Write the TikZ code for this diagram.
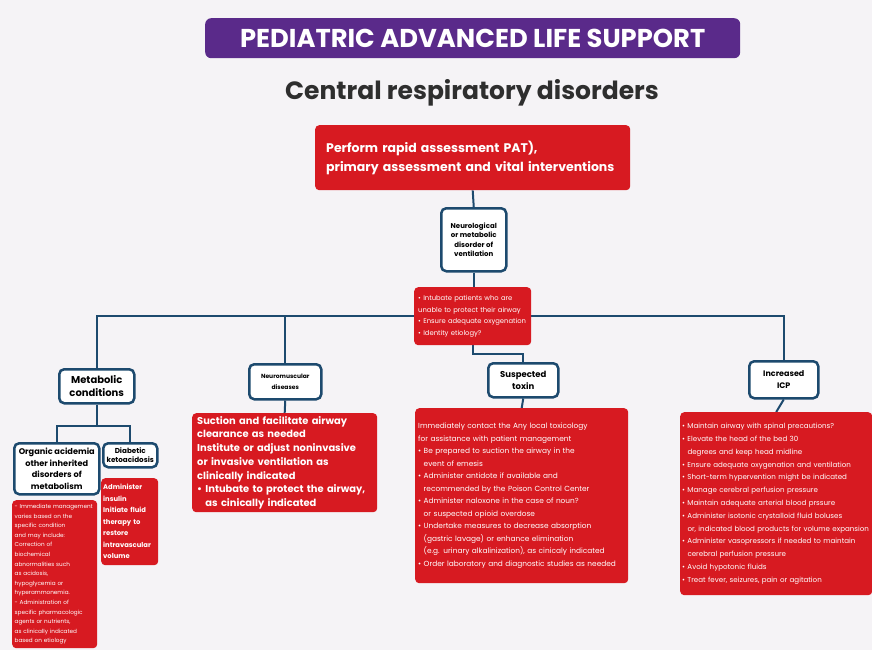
\documentclass[tikz,border=0pt]{standalone}
\usepackage{fontspec}
\setmainfont{Poppins}
\definecolor{palsred}{HTML}{D71A21}
\definecolor{palspurple}{HTML}{5A2A8A}
\definecolor{palsblue}{HTML}{1D4A6E}
\definecolor{bgcol}{HTML}{F5F3F6}
\definecolor{titlegrey}{HTML}{2E2E2E}
\pgfdeclarelayer{back}
\pgfdeclarelayer{lines}
\pgfsetlayers{back,lines,main}
\newcommand{\fsz}[2]{\fontsize{#1}{#2}\selectfont\hyphenpenalty=10000\exhyphenpenalty=10000}
\newcommand{\bul}{\textbullet\ }
\newcommand{\ind}{\hphantom{\textbullet\ }}
\begin{document}
\begin{tikzpicture}[x=1pt,y=-1pt,
  redbox/.style={fill=palsred, rounded corners=4pt, text=white, anchor=north west, align=left, inner ysep=3pt},
  bluebox/.style={draw=palsblue, line width=2.5pt, fill=white, rounded corners=5pt, align=center, anchor=north west, inner sep=1pt, text=black},
  conn/.style={draw=palsblue, line width=2pt},
]
\begin{pgfonlayer}{back}
\fill[bgcol] (0,0) rectangle (872,650);
\end{pgfonlayer}
\useasboundingbox (0,0) rectangle (872,650);

% title
\node[fill=palspurple, rounded corners=6pt, minimum width=535pt, minimum height=40pt, anchor=north west, text=white, font=\bfseries\fsz{25.8}{28}] (title) at (205,18) {PEDIATRIC ADVANCED LIFE SUPPORT};
\node[text=titlegrey, font=\bfseries\fsz{25}{30}] (sub) at (472,93) {Central respiratory disorders};

% top box
\node[redbox, text width=293pt, minimum height=65pt, inner xsep=11pt, font=\bfseries\fsz{12.5}{19}] (top) at (315,125) {Perform rapid assessment PAT),\\primary assessment and vital interventions};

\node[bluebox, minimum width=65pt, minimum height=63pt, font=\bfseries\fsz{7}{9.5}] (neuro) at (440,207) {Neurological\\or metabolic\\disorder of\\ventilation};

\node[redbox, text width=109pt, minimum height=58pt, inner xsep=4pt, font=\fsz{6.8}{11.5}] (intub) at (414,287) {\bul Intubate patients who are\\unable to protect their airway\\\bul Ensure adequate oxygenation\\\bul Identity etiology?};

% category boxes
\node[bluebox, minimum width=75pt, minimum height=34pt, font=\bfseries\fsz{10}{12.5}] (meta) at (58,368) {Metabolic\\conditions};
\node[bluebox, minimum width=72pt, minimum height=35pt, font=\bfseries\fsz{6}{11}] (nm) at (248,363) {Neuromuscular\\diseases};
\node[bluebox, minimum width=70pt, minimum height=34pt, font=\bfseries\fsz{8.5}{12}] (tox) at (487,362) {Suspected\\toxin};
\node[bluebox, minimum width=69pt, minimum height=37pt, font=\bfseries\fsz{8}{12}] (icp) at (748,360) {Increased\\ICP};

\node[bluebox, minimum width=85pt, minimum height=51pt, font=\bfseries\fsz{8.2}{11.8}] (org) at (13,442) {Organic acidemia\\other inherited\\disorders of\\metabolism};
\node[bluebox, minimum width=54pt, minimum height=24pt, font=\bfseries\fsz{7.2}{9.5}] (dia) at (102,442) {Diabetic\\ketoacidosis};

% red detail boxes
\node[redbox, text width=80pt, minimum height=148pt, inner xsep=2.5pt, font=\fsz{5.7}{9.6}] (orgred) at (12,500) {- Immediate management\\varies based on the\\specific condition\\and may include:\\Correction of\\biochemical\\abnormalities such\\as acidosis,\\hypoglycemia or\\hyperammonemia.\\- Administration of\\specific pharmacologic\\agents or nutrients,\\as clinically indicated\\based on etiology};

\node[redbox, text width=53pt, minimum height=87pt, inner xsep=2pt, font=\bfseries\fsz{6.8}{11.5}] (diared) at (101,478) {Administer\\insulin\\Initiate fluid\\therapy to\\restore\\intravascular\\volume};

\node[redbox, text width=181pt, minimum height=99pt, inner xsep=2pt, font=\bfseries\fsz{9.9}{13.7}] (nmred) at (192,413) {\hspace*{3pt}Suction and facilitate airway\\\hspace*{3pt}clearance as needed\\\hspace*{3pt}Institute or adjust noninvasive\\\hspace*{3pt}or invasive ventilation as\\\hspace*{3pt}clinically indicated\\\hspace*{3pt}\bul Intubate to protect the airway,\\\hspace*{3pt}\ind as cinically indicated};

\node[redbox, text width=207pt, minimum height=175pt, inner xsep=3pt, font=\fsz{7.4}{12.5}] (toxred) at (415,408) {Immediately contact the Any local toxicology\\for assistance with patient management\\\bul Be prepared to suction the airway in the\\\ind event of emesis\\\bul Administer antidote if available and\\\ind recommended by the Poison Control Center\\\bul Administer naloxone in the case of noun?\\\ind or suspected opioid overdose\\\bul Undertake measures to decrease absorption\\\ind (gastric lavage) or enhance elimination\\\ind (e.g. urinary alkalinization), as cinicaly indicated\\\bul Order laboratory and diagnostic studies as needed};

\node[redbox, text width=188pt, minimum height=183pt, inner xsep=2pt, font=\fsz{7.1}{12.8}] (icpred) at (680,412) {\bul Maintain airway with spinal precautions?\\\bul Elevate the head of the bed 30\\\ind degrees and keep head midline\\\bul Ensure adequate oxygenation and ventilation\\\bul Short-term hypervention might be indicated\\\bul Manage cerebral perfusion pressure\\\bul Maintain adequate arterial blood prssure\\\bul Administer isotonic crystalloid fluid boluses\\\ind or, indicated blood products for volume expansion\\\bul Administer vasopressors if needed to maintain\\\ind cerebral perfusion pressure\\\bul Avoid hypotonic fluids\\\bul Treat fever, seizures, pain or agitation};

% connectors
\begin{pgfonlayer}{lines}
\draw[conn] (top.south) -- (neuro.north);
\draw[conn] (neuro.south) -- (neuro.south |- intub.north);
\draw[conn] (meta.north) -- (meta.north |- intub.west) -- (icp.north |- intub.west) -- (icp.north);
\draw[conn] (nm.north) -- (nm.north |- intub.west);
\draw[conn] (intub.south) -- ++(0,9) -| (tox.north);
\draw[conn] (meta.south) -- ++(0,21) coordinate (mb);
\draw[conn] (org.north) |- (mb) -| (dia.north);
\draw[conn] (nm.south) -- (nmred.north);
\draw[conn] (tox.south) -- (toxred.north);
\draw[conn] (icp.south) -- (icpred.north);
\end{pgfonlayer}
\end{tikzpicture}
\end{document}
